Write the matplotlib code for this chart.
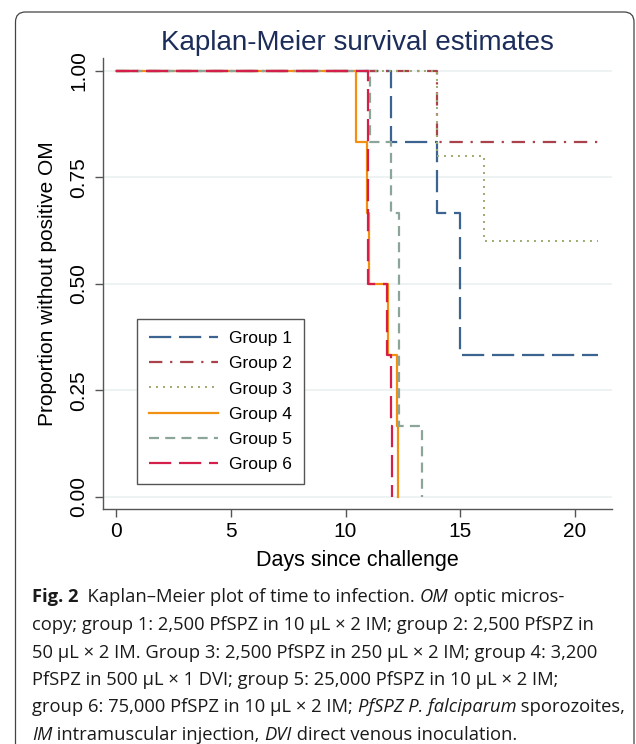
import matplotlib
matplotlib.use("Agg")
import matplotlib.pyplot as plt
from matplotlib.patches import FancyBboxPatch
from matplotlib.transforms import IdentityTransform

# Kaplan-Meier step points (days, proportion)
g1_days = [0, 12.0, 14.0, 15.0, 21.0]
g1_surv = [1.0, 0.833, 0.667, 0.333, 0.333]
g2_days = [0, 14.0, 21.0]
g2_surv = [1.0, 0.833, 0.833]
g3_days = [0, 14.0, 16.05, 21.0]
g3_surv = [1.0, 0.8, 0.6, 0.6]
g4_days = [0, 10.44, 10.92, 11.04, 11.87, 12.23, 12.3]
g4_surv = [1.0, 0.833, 0.667, 0.5, 0.333, 0.167, 0.0]
g5_days = [0, 11.07, 11.98, 12.34, 13.32]
g5_surv = [1.0, 0.833, 0.667, 0.167, 0.0]
g6_days = [0, 11.0, 11.82, 11.98, 12.04]
g6_surv = [1.0, 0.5, 0.333, 0.167, 0.0]

labels = ["Group 1", "Group 2", "Group 3", "Group 4", "Group 5", "Group 6"]
xticks = [0, 5, 10, 15, 20]
yticks = [0.0, 0.25, 0.5, 0.75, 1.0]
ytick_labels = ["0.00", "0.25", "0.50", "0.75", "1.00"]

caption = [
    [("Fig. 2", "bold"), ("  Kaplan\u2013Meier plot of time to infection. ", "normal"),
     ("OM", "italic"), (" optic micros-", "normal")],
    [("copy; group 1: 2,500 PfSPZ in 10 \u00b5L \u00d7 2 IM; group 2: 2,500 PfSPZ in", "normal")],
    [("50 \u00b5L \u00d7 2 IM. Group 3: 2,500 PfSPZ in 250 \u00b5L \u00d7 2 IM; group 4: 3,200", "normal")],
    [("PfSPZ in 500 \u00b5L \u00d7 1 DVI; group 5: 25,000 PfSPZ in 10 \u00b5L \u00d7 2 IM;", "normal")],
    [("group 6: 75,000 PfSPZ in 10 \u00b5L \u00d7 2 IM; ", "normal"),
     ("PfSPZ P. falciparum", "italic"), (" sporozoites,", "normal")],
    [("IM", "italic"), (" intramuscular injection, ", "normal"),
     ("DVI", "italic"), (" direct venous inoculation.", "normal")],
]

plt.rcParams["font.family"] = ["Liberation Sans", "DejaVu Sans"]

W, H = 636, 744
fig = plt.figure(figsize=(W / 100, H / 100), dpi=100)
fig.patch.set_facecolor("white")

ax = fig.add_axes([103.3 / W, (H - 509.3) / H, (612 - 103.3) / W, (509.3 - 58) / H])

series = [
    (g1_days, g1_surv, "#3b6490", (0, (10, 3.5)), 1.6),
    (g2_days, g2_surv, "#a9424a", (0, (6, 3.5, 1, 3.5)), 1.6),
    (g3_days, g3_surv, "#9aab6c", (0, (1, 2.6)), 1.4),
    (g4_days, g4_surv, "#f29111", "-", 1.6),
    (g5_days, g5_surv, "#8ba599", (0, (4.5, 2.8)), 1.6),
    (g6_days, g6_surv, "#d41f4b", (0, (10, 3.5)), 1.6),
]
for (d, s, c, ls, lw), lab in zip(series, labels):
    ax.step(d, s, where="post", color=c, linestyle=ls, lw=lw, label=lab)

ax.set_xlim(-0.553, 21.61)
ax.set_ylim(-0.0296, 1.0305)
ax.set_xticks(xticks)
ax.set_yticks(yticks)
ax.set_yticklabels(ytick_labels)
ax.grid(axis="y", color="#e8f0f0", lw=1.1)
ax.set_axisbelow(True)
for side in ["top", "right"]:
    ax.spines[side].set_visible(False)
for side in ["left", "bottom"]:
    ax.spines[side].set_color("#555555")
    ax.spines[side].set_linewidth(1.0)
ax.tick_params(axis="both", length=5.8, width=1.0, color="#555555", labelsize=15)
ax.tick_params(axis="x", pad=3.6)
ax.tick_params(axis="y", pad=4.8)
for t in ax.get_yticklabels():
    t.set_rotation(90)
    t.set_va("center")

leg = ax.legend(loc="lower left", bbox_to_anchor=(0.0668, 0.0553), borderaxespad=0,
                fontsize=12.5, handlelength=3.97, handletextpad=0.63,
                labelspacing=0.58, borderpad=0.7, fancybox=False, framealpha=1)
leg.get_frame().set_edgecolor("#555555")
leg.get_frame().set_linewidth(1.0)

fig.text(357.5 / W, (H - 50) / H, "Kaplan-Meier survival estimates", ha="center",
         va="baseline", fontsize=20, color="#1c2d5a")
fig.text(48 / W, (H - 283.5) / H, "Proportion without positive OM", rotation=90,
         ha="center", va="center", fontsize=15)
fig.text(357.5 / W, (H - 566) / H, "Days since challenge", ha="center",
         va="baseline", fontsize=15.5)

# rounded frame around the figure panel
fig.add_artist(FancyBboxPatch((15.5, -30), 618.5, H - 12 + 30,
                              boxstyle="round,pad=0,rounding_size=10",
                              transform=IdentityTransform(), fill=False,
                              ec="#444444", lw=0.9))

# caption with mixed bold / italic pieces
renderer = fig.canvas.get_renderer()
cap_font = ["Open Sans", "DejaVu Sans"]
cap_size = 13.2
baselines = [602, 630, 657.5, 685, 712.5, 740]


def width_of(txt, style):
    kw = dict(fontsize=cap_size, family=cap_font)
    if style == "bold":
        kw["fontweight"] = "bold"
    elif style == "italic":
        kw["fontstyle"] = "italic"
    a = fig.text(0, 0, txt + "|", transform=IdentityTransform(), **kw)
    b = fig.text(0, 0, "|", transform=IdentityTransform(), **kw)
    w = a.get_window_extent(renderer).width - b.get_window_extent(renderer).width
    a.remove()
    b.remove()
    return w, kw


for parts, yb in zip(caption, baselines):
    x = 32
    for txt, style in parts:
        w, kw = width_of(txt, style)
        fig.text(x, H - yb, txt, transform=IdentityTransform(), va="baseline",
                 ha="left", color="#1a1a1a", **kw)
        x += w

fig.savefig("out.png", dpi=100)
